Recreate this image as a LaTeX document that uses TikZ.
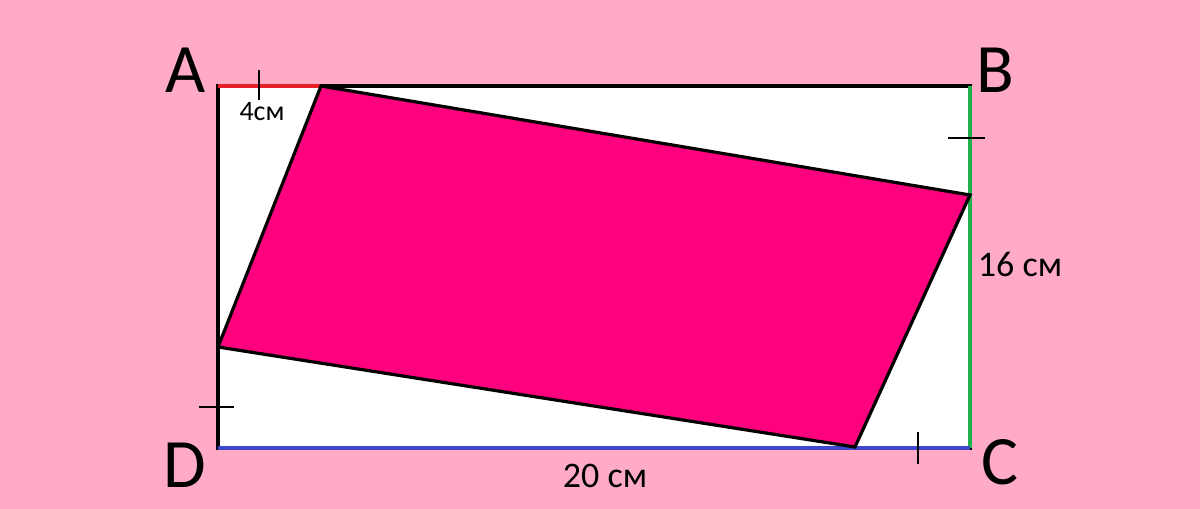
\documentclass[tikz,border=0pt]{standalone}
\usepackage{fontspec}
\setmainfont{Carlito}
\definecolor{bgpink}{HTML}{FFABC6}
\definecolor{mag}{HTML}{FF007F}
\definecolor{myred}{HTML}{E8202A}
\definecolor{mygreen}{HTML}{22B04C}
\definecolor{myblue}{HTML}{3F48CC}
\begin{document}
\begin{tikzpicture}[x=0.75pt,y=-0.75pt,
  tick/.style={black,line width=1.8pt},
  big/.style={font=\fontsize{52}{52}\selectfont},
  lab/.style={font=\fontsize{27}{27}\selectfont}]
\fill[bgpink] (0,0) rectangle (1200,509);
\useasboundingbox (0,0) rectangle (1200,509);
\coordinate (A) at (218,86);
\coordinate (B) at (970,86);
\coordinate (C) at (970,448);
\coordinate (D) at (218,448);
\coordinate (P1) at (321,86);
\coordinate (P2) at (970,195);
\coordinate (P3) at (855,447);
\coordinate (P4) at (218,347);
\fill[white] (A) rectangle (C);
\draw[black,line width=2.4pt] (A) -- (B) -- (C) -- (D) -- cycle;
\draw[myred,line width=2.4pt] (A) -- (P1);
\draw[mygreen,line width=2.6pt] (B) -- (C);
\draw[myblue,line width=2.6pt] (D) -- (C);
\filldraw[fill=mag,draw=black,line width=2.4pt,line join=miter] (P1) -- (P2) -- (P3) -- (P4) -- cycle;
\draw[tick] (259,70) -- (259,100);
\draw[tick] (948,138) -- (985,138);
\draw[tick] (199,407) -- (234,407);
\draw[tick] (918,432) -- (918,464);
\node[big] (la) at (186,70) {A};
\node[big] (lb) at (995,70) {B};
\node[big] (lc) at (1000,462) {C};
\node[big] (ld) at (185,465) {D};
\node[font=\fontsize{21}{21}\selectfont] (l4) at (262,112) {4см};
\node[lab] (l16) at (1020,264) {16 см};
\node[lab] (l20) at (605,476) {20 см};
\end{tikzpicture}
\end{document}
